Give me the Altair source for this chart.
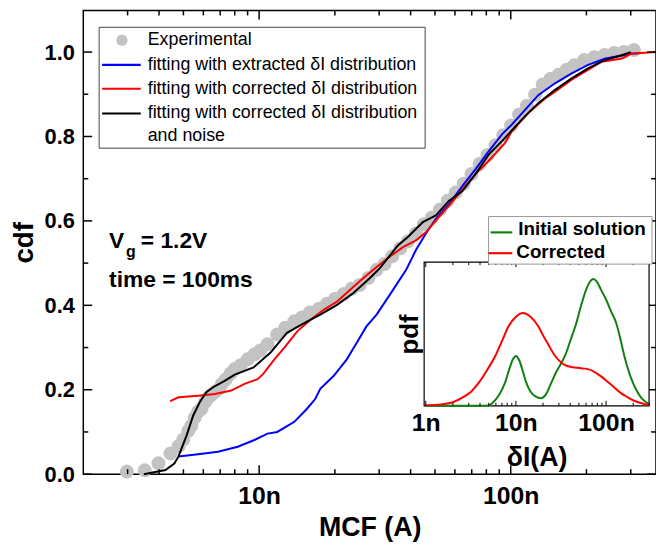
import altair as alt
import pandas as pd

# ---------------- data (MCF / deltaI in nA) ----------------
exp_x = [2.98, 3.51, 3.98, 4.44, 4.78, 5.0, 5.23, 5.38, 5.55, 5.72, 5.90, 6.10, 6.27, 6.46, 6.68,
         6.92, 7.11, 7.38, 7.72, 8.0, 8.45, 9.0, 9.6, 10.1, 10.8, 11.8, 12.7, 13.8, 14.8, 15.9,
         17.3, 18.6, 20.0, 21.7, 23.3, 25.1, 27.2, 29.3, 31.5, 33.8, 36.4, 39.1, 42.0, 45.2, 48.6,
         52.3, 56.2, 60.4, 65.0, 69.8, 75.2, 80.8, 86.9, 93.4, 100.4, 108, 116, 125, 134, 144,
         155, 167, 179, 196, 215, 236, 258, 282, 309]
exp_y = [0.006, 0.009, 0.026, 0.049, 0.066, 0.082, 0.103, 0.115, 0.134, 0.148, 0.155, 0.171, 0.181, 0.188, 0.195,
         0.202, 0.214, 0.225, 0.239, 0.249, 0.258, 0.272, 0.284, 0.293, 0.308, 0.331, 0.347, 0.362, 0.371, 0.383,
         0.392, 0.404, 0.415, 0.427, 0.439, 0.448, 0.465, 0.484, 0.498, 0.516, 0.535, 0.552, 0.570, 0.592, 0.608,
         0.627, 0.648, 0.667, 0.688, 0.711, 0.735, 0.756, 0.779, 0.803, 0.826, 0.852, 0.873, 0.899, 0.923, 0.937,
         0.946, 0.958, 0.969, 0.981, 0.988, 0.993, 0.998, 1.0, 1.005]

blue_x = [4.78, 5.72, 6.86, 8.22, 9.57, 10.8, 11.8, 13.8, 15.5, 16.7, 17.5, 19.8, 22.3, 24.4, 26.7,
          29.3, 33.5, 38.4, 42.0, 46.0, 50.4, 56.9, 64.3, 72.4, 81.7, 92.3, 101, 114, 128.6, 150,
          174, 202, 236, 300, 328]
blue_y = [0.042, 0.047, 0.053, 0.065, 0.081, 0.096, 0.10, 0.124, 0.155, 0.178, 0.202, 0.233, 0.272, 0.311, 0.350,
          0.378, 0.43, 0.484, 0.531, 0.570, 0.605, 0.640, 0.683, 0.722, 0.765, 0.805, 0.828, 0.863, 0.898, 0.926,
          0.949, 0.969, 0.984, 0.996, 0.998]

red_x = [4.43, 4.78, 5.72, 6.66, 7.74, 8.75, 9.86, 10.4, 11.5, 12.6, 14.2, 16.0, 18.1, 20.4, 23.0,
         25.9, 29.3, 33.0, 37.3, 42.0, 46.0, 50.4, 56.9, 64.3, 72.4, 81.7, 95, 101, 117, 137,
         150, 174, 202, 229, 274, 300, 378]
red_y = [0.173, 0.182, 0.186, 0.190, 0.198, 0.214, 0.225, 0.238, 0.272, 0.300, 0.339, 0.366, 0.390, 0.409, 0.437,
         0.464, 0.491, 0.515, 0.538, 0.554, 0.573, 0.601, 0.636, 0.675, 0.711, 0.742, 0.785, 0.812, 0.855, 0.890,
         0.906, 0.934, 0.957, 0.977, 0.984, 0.996, 1.0]

black_x = [3.48, 4.24, 4.6, 4.78, 5.15, 5.47, 5.81, 6.17, 6.56, 7.29, 8.0, 9.5, 11.1, 12.9, 15.1,
           17.5, 20.4, 23.7, 27.5, 30.2, 35.6, 39.0, 44.7, 50.4, 56.9, 64.3, 72.4, 81.7, 92.3, 110.6,
           128.6, 149.6, 174, 202, 236, 274, 300]
black_y = [0.0, 0.01, 0.025, 0.042, 0.092, 0.139, 0.171, 0.194, 0.206, 0.221, 0.236, 0.253, 0.288, 0.335, 0.358,
           0.378, 0.401, 0.429, 0.464, 0.488, 0.542, 0.562, 0.597, 0.613, 0.648, 0.671, 0.711, 0.757, 0.789, 0.840,
           0.879, 0.910, 0.937, 0.961, 0.981, 0.992, 1.0]

# inset pdf curves (arbitrary units)
green_x = [1, 2, 3, 4, 5, 5.5, 6.5, 7.6, 8.5, 9.3, 10, 11, 12, 13, 14.5, 16.5, 19, 21.5, 24.8, 28,
           32, 35, 40, 47, 53, 60, 66, 72, 79, 88, 100, 115, 129, 145, 159, 185, 214, 250, 300]
green_y = [0, 0, 0, 0, 0.002, 0.02, 0.075, 0.163, 0.26, 0.325, 0.347, 0.31, 0.235, 0.163, 0.10, 0.065, 0.053, 0.08, 0.163, 0.235,
           0.30, 0.347, 0.45, 0.58, 0.70, 0.807, 0.862, 0.883, 0.865, 0.807, 0.74, 0.65, 0.58, 0.46, 0.35, 0.21, 0.117, 0.05, 0.014]
rpdf_x = [1, 1.5, 2, 2.6, 3.2, 3.9, 4.8, 5.9, 7, 8.3, 10, 12, 14.5, 17.7, 20, 22.8, 27, 32, 38, 45,
          55, 63, 75, 88, 105, 123, 145, 173, 205, 243, 300]
rpdf_y = [0.003, 0.01, 0.025, 0.06, 0.10, 0.163, 0.25, 0.347, 0.45, 0.554, 0.62, 0.646, 0.62, 0.554, 0.49, 0.428, 0.35, 0.30, 0.275, 0.267,
          0.26, 0.255, 0.235, 0.205, 0.165, 0.129, 0.09, 0.06, 0.035, 0.019, 0.005]

x_major = [10, 100]
x_minor = [3, 4, 5, 6, 7, 8, 9, 20, 30, 40, 50, 60, 70, 80, 90, 200, 300]
y_major = [0, 0.2, 0.4, 0.6, 0.8, 1.0]
y_minor = [0.1, 0.3, 0.5, 0.7, 0.9]
ix_major = [1, 10, 100]
ix_minor = [2, 3, 4, 5, 6, 7, 8, 9, 20, 30, 40, 50, 60, 70, 80, 90, 200, 300]

legend_labels = ["Experimental", "fitting with extracted \u03b4I distribution",
                 "fitting with corrected \u03b4I distribution",
                 "fitting with corrected \u03b4I distribution", "and noise"]
inset_labels = ["Initial solution", "Corrected"]

# ---------------- chart ----------------
FONT = "Liberation Sans"
W, H = 578, 468

xs = alt.Scale(type="log", domain=[2, 378], nice=False)
ys = alt.Scale(domain=[0, 1.0986], nice=False, zero=False)
ixs = alt.Scale(type="log", domain=[0.96, 300], range=[344, 571], nice=False)
iys = alt.Scale(domain=[0, 1], range=[399, 254], nice=False, zero=False)

xaxis = alt.Axis(values=x_major, labelExpr="datum.value + 'n'", title="MCF (A)", ticks=False, tickSize=0,
                 domain=False, grid=False, labelFontSize=25, labelFontWeight="bold", labelPadding=10,
                 labelOverlap=False, labelFlush=False, titleFontSize=27, titleFontWeight="bold",
                 titlePadding=6, labelFont=FONT, titleFont=FONT, labelColor="black", titleColor="black")
yaxis = alt.Axis(values=y_major, format=".1f", title="cdf", ticks=False, tickSize=0, domain=False, grid=False,
                 labelFontSize=22, labelFontWeight="bold", labelPadding=9, labelOverlap=False, labelFlush=False,
                 titleFontSize=28, titleFontWeight="bold", titlePadding=6, labelFont=FONT, titleFont=FONT,
                 labelColor="black", titleColor="black")
ixaxis = alt.Axis(orient="bottom", offset=-69, values=ix_major, labelExpr="datum.value + 'n'", title="\u03b4I(A)",
                  ticks=False, tickSize=0, domain=False, grid=False, labelFontSize=25, labelFontWeight="bold",
                  labelPadding=5, labelOverlap=False, labelFlush=False, titleFontSize=27, titleFontWeight="bold",
                  titlePadding=9, labelFont=FONT, titleFont=FONT, labelColor="black", titleColor="black")
iyaxis = alt.Axis(orient="left", offset=-344, labels=False, ticks=False, tickSize=0, domain=False, grid=False,
                  title="pdf", titleFontSize=26, titleFontWeight="bold", titlePadding=2, titleFont=FONT,
                  titleColor="black")

one = pd.DataFrame({"d": [0]})


def curve(xv, yv, color, sx, sy, ax, ay, width=2.0, interp="linear"):
    df = pd.DataFrame({"x": xv, "y": yv, "i": list(range(len(xv)))})
    return alt.Chart(df).mark_line(color=color, strokeWidth=width, interpolate=interp).encode(
        x=alt.X("x:Q", scale=sx, axis=ax), y=alt.Y("y:Q", scale=sy, axis=ay), order="i:Q")


def vticks(vals, sx, ax, y0, y1, w=1.5):
    return alt.Chart(pd.DataFrame({"x": vals})).mark_rule(color="black", strokeWidth=w).encode(
        x=alt.X("x:Q", scale=sx, axis=ax), y=alt.value(y0), y2=alt.value(y1))


def hticks(vals, sy, ay, x0, x1, w=1.5):
    return alt.Chart(pd.DataFrame({"y": vals})).mark_rule(color="black", strokeWidth=w).encode(
        y=alt.Y("y:Q", scale=sy, axis=ay), x=alt.value(x0), x2=alt.value(x1))


def txt(s, x, y, size, weight="normal", baseline="alphabetic", align="left"):
    return alt.Chart(one).mark_text(text=s, font=FONT, fontSize=size, fontWeight=weight, align=align,
                                    baseline=baseline, color="black").encode(x=alt.value(x), y=alt.value(y))


def seg(x0, x1, y, color, w=2.2):
    return alt.Chart(one).mark_rule(color=color, strokeWidth=w).encode(
        x=alt.value(x0), x2=alt.value(x1), y=alt.value(y))


def box(x0, x1, y0, y1, stroke, w=1.0):
    return alt.Chart(one).mark_rect(fill="white", stroke=stroke, strokeWidth=w).encode(
        x=alt.value(x0), x2=alt.value(x1), y=alt.value(y0), y2=alt.value(y1))


pts = alt.Chart(pd.DataFrame({"x": exp_x, "y": exp_y})).mark_circle(size=200, color="#c3c3c3", opacity=1).encode(
    x=alt.X("x:Q", scale=xs, axis=xaxis), y=alt.Y("y:Q", scale=ys, axis=yaxis))

main_layers = [
    pts,
    curve(blue_x, blue_y, "#0000ff", xs, ys, xaxis, yaxis),
    curve(red_x, red_y, "#ff0000", xs, ys, xaxis, yaxis),
    curve(black_x, black_y, "#000000", xs, ys, xaxis, yaxis),
    vticks(x_major, xs, xaxis, H, H - 9), vticks(x_minor, xs, xaxis, H, H - 5),
    vticks(x_major, xs, xaxis, 0, 9), vticks(x_minor, xs, xaxis, 0, 5),
    hticks(y_major, ys, yaxis, 0, 9), hticks(y_minor, ys, yaxis, 0, 5),
    hticks(y_major, ys, yaxis, W, W - 9), hticks(y_minor, ys, yaxis, W, W - 5),
    # legend
    box(16, 345, 17, 139, "#444444"),
    alt.Chart(one).mark_circle(size=130, color="#c3c3c3", opacity=1).encode(x=alt.value(39), y=alt.value(30)),
    seg(19, 58, 55, "#0000ff"), seg(19, 58, 79, "#ff0000"), seg(19, 58, 104, "#000000"),
    txt(legend_labels[0], 65, 30, 18, baseline="middle"),
    txt(legend_labels[1], 65, 55, 18, baseline="middle"),
    txt(legend_labels[2], 65, 79, 18, baseline="middle"),
    txt(legend_labels[3], 65, 104, 18, baseline="middle"),
    txt(legend_labels[4], 65, 127, 18, baseline="middle"),
    # annotations
    txt("V", 26, 240, 23, "bold"),
    txt("g", 43, 249, 16, "bold"),
    txt("= 1.2V", 58, 240, 23, "bold"),
    txt("time = 100ms", 26, 279, 23, "bold"),
]
main = alt.layer(*main_layers)

inset_layers = [
    box(344, 571, 254, 399, "#000000", 1.2),
    curve(green_x, green_y, "#108010", ixs, iys, ixaxis, iyaxis, 2.0, "monotone"),
    curve(rpdf_x, rpdf_y, "#ff0000", ixs, iys, ixaxis, iyaxis, 2.0, "monotone"),
    vticks(ix_major, ixs, ixaxis, 399, 394, 1), vticks(ix_minor, ixs, ixaxis, 399, 396, 1),
    vticks(ix_major, ixs, ixaxis, 254, 259, 1), vticks(ix_minor, ixs, ixaxis, 254, 257, 1),
    box(409, 574, 208, 256, "#999999"),
    seg(411, 433, 224, "#108010"), seg(409, 433, 245, "#ff0000"),
    txt(inset_labels[0], 439, 227, 19, "bold"),
    txt(inset_labels[1], 437, 250, 19, "bold"),
]
inset = alt.layer(*inset_layers)

chart = alt.layer(main, inset).resolve_scale(x="independent", y="independent").properties(
    width=W, height=H,
    padding={"left": 76, "top": 0, "right": 0, "bottom": 68},
    autosize=alt.AutoSizeParams(type="none"),
).configure_view(stroke="black", strokeWidth=1.5).configure_axis(grid=False)

chart.save("out.html", embed_options={"renderer": "svg", "actions": False})
